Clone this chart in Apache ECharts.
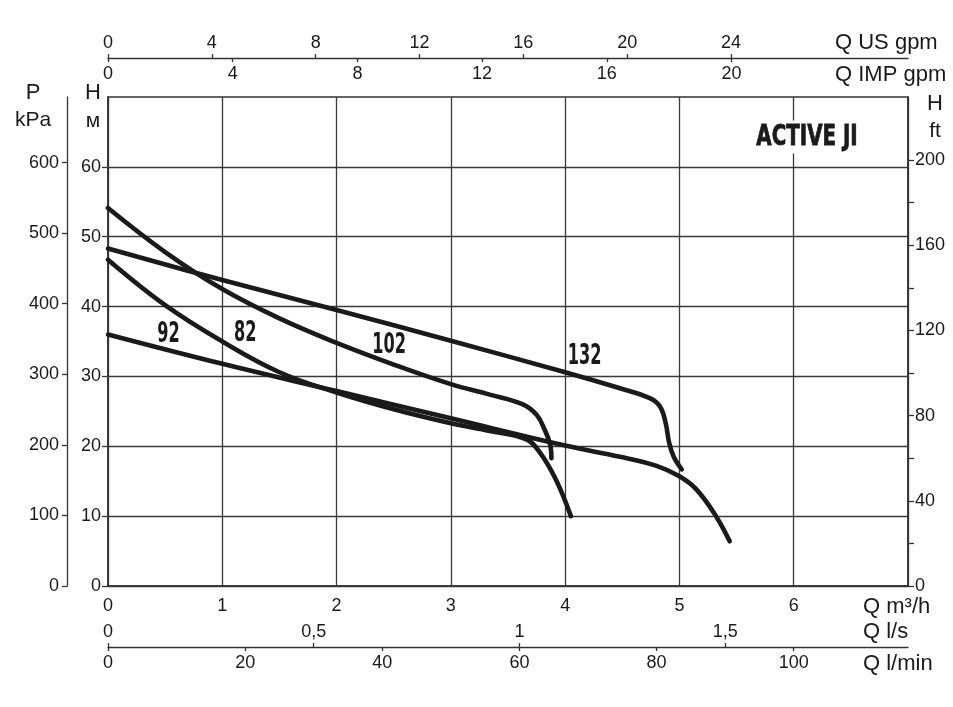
<!DOCTYPE html>
<html><head><meta charset="utf-8">
<script src="https://cdn.jsdelivr.net/npm/echarts@6/dist/echarts.min.js"></script>
<style>html,body{margin:0;padding:0;background:#fff}#c{width:953px;height:707px}</style>
</head><body><div id="c"></div>
<script>
// ---- tick values ----
const qM3hTicks = [0, 1, 2, 3, 4, 5, 6];
const qUsGpmTicks = [0, 4, 8, 12, 16, 20, 24];
const qImpGpmTicks = [0, 4, 8, 12, 16, 20];
const qLsTicks = [0, 0.5, 1, 1.5];
const qLminTicks = [0, 20, 40, 60, 80, 100];
const hMTicks = [0, 10, 20, 30, 40, 50, 60];
const pKpaTicks = [0, 100, 200, 300, 400, 500, 600];
const hFtTicks = [0, 20, 40, 60, 80, 100, 120, 140, 160, 180, 200];
const hFtLabels = [0, 40, 80, 120, 160, 200];

// ---- curves: [Q m3/h, H m] ----
const curveNames = ['92', '82', '102', '132'];
const curve92 = [[0,36.0],[1,31.8],[2,27.9],[3,24.0],[4,20.1],[4.48,18.5],[4.8,17.2],[5.0,15.7],[5.15,13.8],[5.32,10.0],[5.44,6.4]];
const curve82 = [[0,46.7],[0.5,40.2],[1,35.0],[1.5,30.6],[2,27.7],[2.5,25.3],[3,23.3],[3.34,22.2],[3.66,21.0],[3.78,19.1],[3.92,15.2],[4.05,10.0]];
const curve102 = [[0,54.1],[0.5,47.8],[1,42.5],[1.5,38.3],[2,34.8],[2.5,31.7],[3,28.9],[3.34,27.4],[3.63,26.0],[3.75,24.5],[3.82,22.4],[3.87,20.2],[3.88,18.3]];
const curve132 = [[0,48.3],[1,43.8],[2,39.5],[3,35.1],[4,30.6],[4.48,28.3],[4.74,26.9],[4.83,25.7],[4.88,23.3],[4.91,20.5],[4.95,18.5],[5.02,16.7]];
const labelAnchors = [[0.53,36.0],[1.2,36.2],[2.46,34.4],[4.17,32.8]];

// ---- unit conversions ----
const Q_MAX = 7, H_MAX = 70;
const US_GPM_PER_M3H = 4.40287, IMP_GPM_PER_M3H = 3.66615, LS_PER_M3H = 1/3.6, LMIN_PER_M3H = 1000/60;
const FT_PER_M = 3.28084, KPA_PER_M = 9.9;

const FONT = "'Liberation Sans', Arial, Helvetica, sans-serif";
const NARROW = "'DejaVu Sans Condensed', 'DejaVu Sans', sans-serif";
const INK = '#1a1a1a', LINE = '#333';
const lab = (extra) => Object.assign({color: INK, fontFamily: FONT, fontSize: 18}, extra);
const comma = v => String(v).replace('.', ',');
const axLine = (show, w) => ({show: show, onZero: false, lineStyle: {color: LINE, width: w || 1.3}});

const chart = echarts.init(document.getElementById('c'), null, {renderer: 'canvas'});
const curves = [curve92, curve82, curve102, curve132];

const option = {
  animation: false,
  backgroundColor: '#fff',
  grid: {left: 108, right: 45, top: 97, bottom: 121, show: true, borderColor: LINE, borderWidth: 1.5},
  xAxis: [
    {type: 'value', position: 'bottom', min: 0, max: Q_MAX, interval: 1,
     axisLine: axLine(true, 1.5),
     axisTick: {show: false},
     axisLabel: lab({margin: 11, customValues: qM3hTicks, formatter: v => v > 6 ? '' : String(v)}),
     splitLine: {show: true, lineStyle: {color: '#3a3a3a', width: 1.3}}},
    {type: 'value', position: 'top', offset: 39, min: 0, max: Q_MAX * US_GPM_PER_M3H, interval: 4,
     axisLine: axLine(true),
     axisTick: {show: true, length: 4, customValues: qUsGpmTicks, lineStyle: {color: LINE, width: 1.3}},
     axisLabel: lab({margin: 6, customValues: qUsGpmTicks, formatter: v => v > 24 ? '' : String(v)}),
     splitLine: {show: false}},
    {type: 'value', position: 'top', offset: 39, min: 0, max: Q_MAX * IMP_GPM_PER_M3H, interval: 4,
     axisLine: axLine(false),
     axisTick: {show: true, inside: true, length: 4, customValues: qImpGpmTicks, lineStyle: {color: LINE, width: 1.3}},
     axisLabel: lab({inside: true, margin: 7, customValues: qImpGpmTicks, formatter: v => v > 20 ? '' : String(v)}),
     splitLine: {show: false}},
    {type: 'value', position: 'bottom', offset: 61, min: 0, max: Q_MAX * LS_PER_M3H, interval: 0.5,
     axisLine: axLine(true),
     axisTick: {show: true, inside: true, length: 4, customValues: qLsTicks, lineStyle: {color: LINE, width: 1.3}},
     axisLabel: lab({inside: true, margin: 6, customValues: qLsTicks, formatter: v => comma(v)}),
     splitLine: {show: false}},
    {type: 'value', position: 'bottom', offset: 61, min: 0, max: Q_MAX * LMIN_PER_M3H, interval: 20,
     axisLine: axLine(false),
     axisTick: {show: true, length: 4, customValues: qLminTicks, lineStyle: {color: LINE, width: 1.3}},
     axisLabel: lab({margin: 7, customValues: qLminTicks, formatter: v => v > 100 ? '' : String(v)}),
     splitLine: {show: false}}
  ],
  yAxis: [
    {type: 'value', position: 'left', min: 0, max: H_MAX, interval: 10,
     axisLine: axLine(true, 1.5),
     axisTick: {show: true, length: 6, customValues: hMTicks, lineStyle: {color: LINE, width: 1.3}},
     axisLabel: lab({margin: 7, customValues: hMTicks, formatter: v => v > 60 ? '' : String(v)}),
     splitLine: {show: true, lineStyle: {color: '#3a3a3a', width: 1.3}}},
    {type: 'value', position: 'left', offset: 41, min: 0, max: H_MAX * KPA_PER_M, interval: 100,
     axisLine: axLine(true),
     axisTick: {show: true, length: 5, customValues: pKpaTicks, lineStyle: {color: LINE, width: 1.3}},
     axisLabel: lab({margin: 8, customValues: pKpaTicks, formatter: v => v > 600 ? '' : String(v)}),
     splitLine: {show: false}},
    {type: 'value', position: 'right', min: 0, max: H_MAX * FT_PER_M, interval: 20,
     axisLine: axLine(true, 1.5),
     axisTick: {show: true, length: 6, customValues: hFtTicks, lineStyle: {color: LINE, width: 1.3}},
     axisLabel: lab({margin: 7, customValues: hFtLabels, formatter: v => (v % 40 === 0 && v <= 200) ? String(v) : ''}),
     splitLine: {show: false}}
  ],
  series: curves.map((d, i) => ({
    type: 'line', name: curveNames[i], data: d, xAxisIndex: 0, yAxisIndex: 0,
    smooth: 0.4, showSymbol: false, symbol: 'none', silent: true,
    lineStyle: {color: INK, width: 4.6, cap: 'round'}
  }))
};
chart.setOption(option);

const txt = (x, y, text, size, align, extra) => Object.assign({
  type: 'text', x: x, y: y, silent: true,
  style: {text: text, font: `${size}px ${FONT}`, fill: INK, textAlign: align || 'center', textVerticalAlign: 'middle'}
}, extra || {});

const graphics = [
  txt(33, 93, 'P', 22), txt(33, 120, 'kPa', 21),
  txt(93, 93, 'H', 22), txt(93, 121, 'м', 21),
  txt(935, 104, 'H', 22), txt(935, 131, 'ft', 21),
  txt(835, 43, 'Q US gpm', 22, 'left'), txt(835, 75, 'Q IMP gpm', 22, 'left'),
  txt(863, 607, 'Q m³/h', 22, 'left'), txt(863, 632, 'Q l/s', 22, 'left'), txt(863, 664, 'Q l/min', 22, 'left'),
  {type: 'text', x: 807, y: 137, z: 10, scaleX: 0.76, silent: true,
   style: {text: 'ACTIVE JI', font: `bold 29px ${NARROW}`, fill: INK, stroke: INK, lineWidth: 0.8, textAlign: 'center', textVerticalAlign: 'middle', backgroundColor: '#fff', padding: [2, 4]}}
];
labelAnchors.forEach((a, i) => {
  const p = chart.convertToPixel({xAxisIndex: 0, yAxisIndex: 0}, a);
  graphics.push({type: 'text', x: p[0], y: p[1], z: 10, scaleX: 0.62, silent: true,
    style: {text: curveNames[i], font: `bold 29px ${NARROW}`, fill: INK, textAlign: 'center', textVerticalAlign: 'middle'}});
});
chart.setOption({graphic: graphics});
</script>
</body></html>
